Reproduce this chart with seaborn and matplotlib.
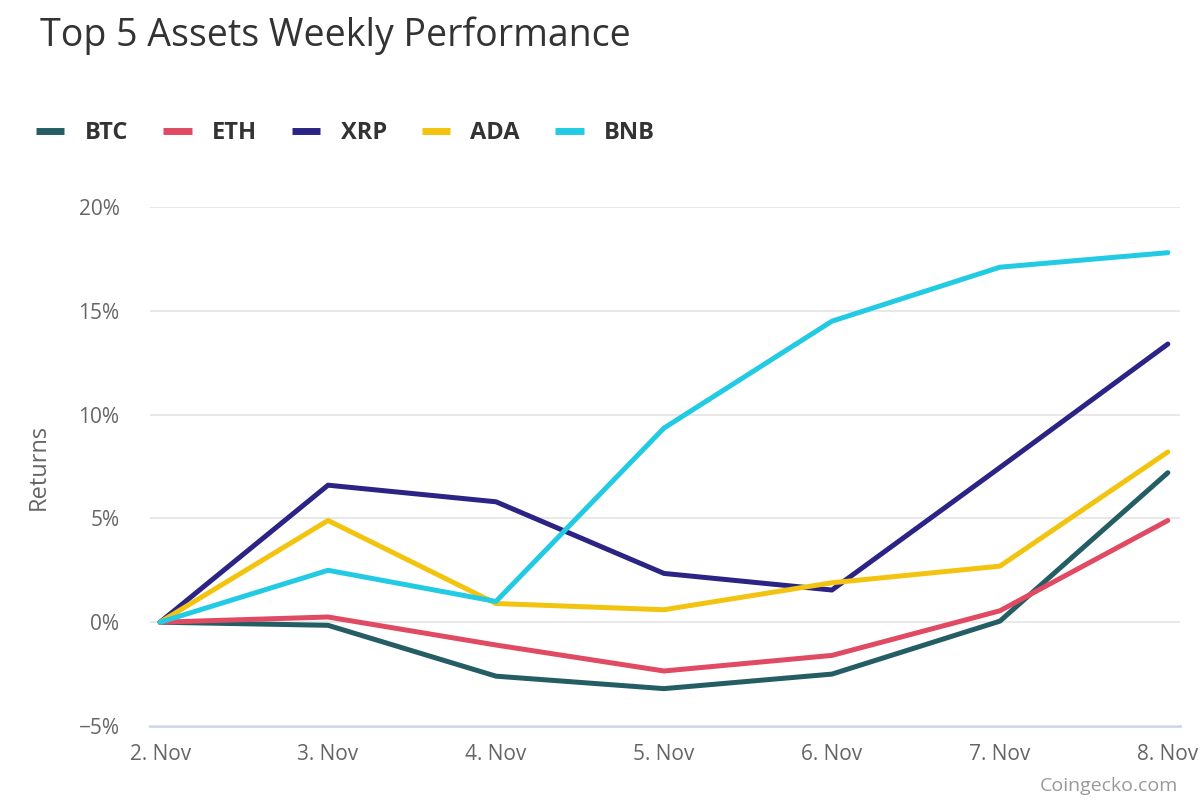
import matplotlib.pyplot as plt
import pandas as pd
import seaborn as sns
from matplotlib.ticker import FuncFormatter, MultipleLocator

days = ["2. Nov", "3. Nov", "4. Nov", "5. Nov", "6. Nov", "7. Nov", "8. Nov"]
assets = ["BTC", "ETH", "XRP", "ADA", "BNB"]
btc = [0.0, -0.15, -2.6, -3.2, -2.5, 0.05, 7.2]
eth = [0.0, 0.25, -1.1, -2.35, -1.6, 0.55, 4.9]
xrp = [0.0, 6.6, 5.8, 2.35, 1.55, 7.45, 13.4]
ada = [0.0, 4.9, 0.9, 0.6, 1.9, 2.7, 8.2]
bnb = [0.0, 2.5, 1.0, 9.35, 14.5, 17.1, 17.8]
colors = ["#245e64", "#e04a62", "#2b2485", "#f2c40f", "#22cbe3"]

series = dict(zip(assets, [btc, eth, xrp, ada, bnb]))
rows = []
for name, vals in series.items():
    for i, v in enumerate(vals):
        rows.append({"day": i, "Asset": name, "Returns": v})
df = pd.DataFrame(rows)

sns.set_style("white")
plt.rcParams["font.family"] = ["Open Sans", "DejaVu Sans"]

fig = plt.figure(figsize=(12, 8), dpi=100)
ax = fig.add_axes([0.125, 0.0925, 0.858, 0.64875])

sns.lineplot(
    data=df,
    x="day",
    y="Returns",
    hue="Asset",
    hue_order=assets,
    palette=colors,
    linewidth=3.6,
    ax=ax,
    legend=False,
)

ax.set_xlim(-0.06, 6.07)
ax.set_ylim(-5, 20)
ax.yaxis.set_major_locator(MultipleLocator(5))
ax.yaxis.set_major_formatter(FuncFormatter(lambda v, p: f"{v:.0f}%".replace("-", "−")))
ax.set_xticks(range(len(days)))
ax.set_xticklabels(days)
ax.grid(axis="y", color="#e6e6e6", linewidth=1.3)
ax.set_axisbelow(True)
for s in ["top", "right", "left"]:
    ax.spines[s].set_visible(False)
ax.spines["bottom"].set_color("#ccd6eb")
ax.spines["bottom"].set_linewidth(2)
ax.spines["bottom"].set_zorder(0)
ax.tick_params(axis="x", length=10, width=1.2, color="#ccd6eb", labelsize=15,
               labelcolor="#666666", pad=3)
ax.tick_params(axis="y", length=0, labelsize=15, labelcolor="#666666", pad=22)
ax.set_xlabel("")
ax.set_ylabel("Returns", fontsize=17, color="#666666", labelpad=20)

handles = [plt.Line2D([0], [0], color=c, linewidth=5, solid_capstyle="butt")
           for c in colors]
fig.legend(handles, assets, loc="center left", bbox_to_anchor=(0.03, 0.834),
           ncol=5, frameon=False, handlelength=1.2, handletextpad=0.85,
           columnspacing=1.5, borderaxespad=0, borderpad=0,
           prop={"weight": "bold", "size": 17})
for t in fig.legends[0].get_texts():
    t.set_color("#333333")

fig.text(0.033, 0.955, "Top 5 Assets Weekly Performance", fontsize=27,
         color="#333333", va="center", ha="left")
fig.text(0.982, 0.018, "Coingecko.com", fontsize=14, color="#999999",
         ha="right", va="center")

fig.savefig("out.png", dpi=100)
